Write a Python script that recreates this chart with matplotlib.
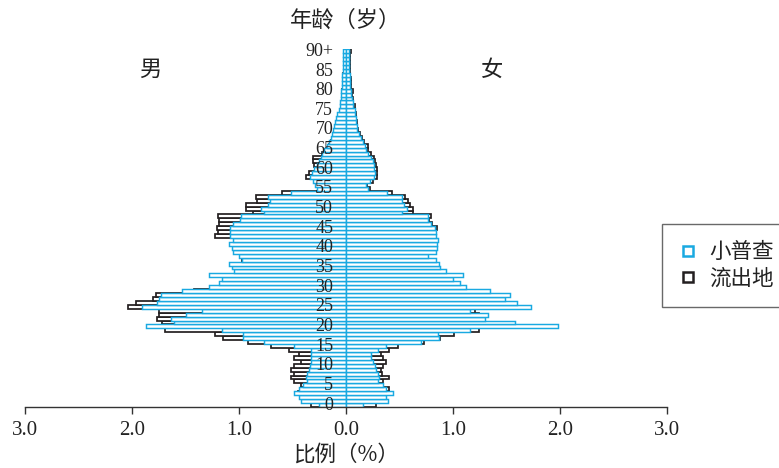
import matplotlib
matplotlib.use("Agg")
import matplotlib.pyplot as plt
from matplotlib.lines import Line2D
import numpy as np

# ---------------- data ----------------
ages = list(range(0, 91))
age_tick_labels = ["0", "5", "10", "15", "20", "25", "30", "35", "40", "45",
                   "50", "55", "60", "65", "70", "75", "80", "85", "90+"]
x_ticks = [-3, -2, -1, 0, 1, 2, 3]
x_tick_labels = ["3.0", "2.0", "1.0", "0.0", "1.0", "2.0", "3.0"]
series_names = ["小普查", "流出地"]

# 小普查 (census) male, ages 0..90
census_male = [0.25, 0.42, 0.44, 0.49, 0.44, 0.40, 0.36, 0.37, 0.36, 0.35,
               0.34, 0.33, 0.33, 0.33, 0.33, 0.49, 0.77, 0.96, 0.96, 1.16,
               1.87, 1.61, 1.64, 1.50, 1.35, 1.91, 1.77, 1.75, 1.73, 1.53,
               1.28, 1.19, 1.16, 1.28, 1.05, 1.07, 1.09, 0.97, 1.00, 1.06,
               1.07, 1.09, 1.06, 1.08, 1.08, 1.08, 1.06, 0.99, 0.98, 0.77,
               0.79, 0.73, 0.71, 0.73, 0.51, 0.27, 0.29, 0.31, 0.34, 0.32,
               0.30, 0.27, 0.25, 0.23, 0.22, 0.21, 0.18, 0.16, 0.14, 0.13,
               0.12, 0.11, 0.10, 0.09, 0.08, 0.07, 0.06, 0.06, 0.05, 0.05,
               0.05, 0.04, 0.04, 0.04, 0.04, 0.03, 0.03, 0.03, 0.03, 0.03,
               0.03]
# 小普查 female
census_female = [0.16, 0.39, 0.37, 0.44, 0.37, 0.35, 0.30, 0.31, 0.30, 0.28,
                 0.27, 0.25, 0.23, 0.23, 0.30, 0.37, 0.70, 0.87, 0.86, 1.16,
                 1.98, 1.58, 1.30, 1.33, 1.16, 1.73, 1.60, 1.49, 1.53, 1.35,
                 1.12, 1.07, 1.00, 1.09, 0.93, 0.88, 0.87, 0.84, 0.77, 0.84,
                 0.85, 0.85, 0.86, 0.84, 0.84, 0.83, 0.79, 0.77, 0.77, 0.52,
                 0.57, 0.54, 0.52, 0.52, 0.38, 0.21, 0.19, 0.22, 0.26, 0.27,
                 0.26, 0.26, 0.25, 0.23, 0.21, 0.19, 0.18, 0.16, 0.14, 0.12,
                 0.10, 0.10, 0.09, 0.09, 0.08, 0.08, 0.07, 0.07, 0.06, 0.05,
                 0.05, 0.04, 0.04, 0.04, 0.04, 0.03, 0.03, 0.03, 0.03, 0.03,
                 0.03]
# 流出地 (origin) male
origin_male = [0.33, 0.35, 0.40, 0.45, 0.42, 0.42, 0.49, 0.51, 0.49, 0.51,
               0.49, 0.42, 0.49, 0.44, 0.53, 0.70, 0.92, 1.15, 1.22, 1.69,
               1.72, 1.72, 1.77, 1.75, 1.75, 2.04, 1.96, 1.80, 1.78, 1.42,
               1.10, 0.98, 1.02, 1.02, 1.02, 0.85, 0.95, 0.97, 0.76, 0.84,
               0.90, 1.02, 1.01, 1.22, 1.20, 1.21, 1.19, 1.19, 1.20, 0.87,
               0.93, 0.93, 0.83, 0.84, 0.60, 0.24, 0.25, 0.30, 0.37, 0.35,
               0.28, 0.30, 0.31, 0.31, 0.22, 0.19, 0.16, 0.14, 0.12, 0.10,
               0.09, 0.08, 0.08, 0.07, 0.06, 0.05, 0.05, 0.04, 0.04, 0.04,
               0.04, 0.03, 0.03, 0.03, 0.03, 0.02, 0.02, 0.02, 0.02, 0.02,
               0.02]
# 流出地 female
origin_female = [0.28, 0.28, 0.35, 0.40, 0.40, 0.33, 0.35, 0.40, 0.34, 0.33,
                 0.35, 0.37, 0.35, 0.33, 0.40, 0.49, 0.73, 0.88, 1.01, 1.24,
                 1.34, 1.30, 1.26, 1.24, 1.21, 1.31, 1.21, 1.05, 0.98, 0.93,
                 0.70, 0.68, 0.66, 0.66, 0.60, 0.59, 0.58, 0.57, 0.55, 0.58,
                 0.61, 0.74, 0.75, 0.80, 0.83, 0.85, 0.80, 0.78, 0.79, 0.63,
                 0.63, 0.60, 0.58, 0.55, 0.43, 0.22, 0.20, 0.25, 0.29, 0.29,
                 0.29, 0.28, 0.27, 0.26, 0.23, 0.21, 0.21, 0.17, 0.15, 0.13,
                 0.11, 0.10, 0.10, 0.09, 0.09, 0.08, 0.08, 0.07, 0.07, 0.06,
                 0.07, 0.05, 0.05, 0.05, 0.04, 0.04, 0.04, 0.04, 0.04, 0.04,
                 0.05]

# ---------------- style ----------------
CYAN = "#19A9E1"
BLACK = "#231F20"
CJK = ["Noto Sans CJK SC", "DejaVu Sans"]
SERIF = ["Liberation Serif", "DejaVu Serif"]

fig = plt.figure(figsize=(7.79, 4.68), dpi=100)
ax = fig.add_axes([25 / 779, 61 / 468, 642 / 779, 357.6 / 468])

y = np.array(ages)
bar_h = 1.0
lw = 1.05

# origin (black) drawn first, census (cyan) on top
ax.barh(y, -np.array(origin_male), height=bar_h, left=0, color="white",
        edgecolor=BLACK, linewidth=lw + 0.2, zorder=1)
ax.barh(y, np.array(origin_female), height=bar_h, left=0, color="white",
        edgecolor=BLACK, linewidth=lw + 0.2, zorder=1)
ax.barh(y, -np.array(census_male), height=bar_h, left=0, color="white",
        edgecolor=CYAN, linewidth=lw, zorder=2)
ax.barh(y, np.array(census_female), height=bar_h, left=0, color="white",
        edgecolor=CYAN, linewidth=lw, zorder=2)

ax.set_xlim(-3, 3)
ax.set_ylim(-0.5, 90.5)

for s in ["left", "right", "top"]:
    ax.spines[s].set_visible(False)
ax.spines["bottom"].set_linewidth(1.0)
ax.spines["bottom"].set_color("#333333")
ax.set_yticks([])
ax.set_xticks(x_ticks)
ax.set_xticklabels(x_tick_labels, fontfamily=SERIF, fontsize=15, color="#222222")
ax.tick_params(axis="x", direction="out", length=5, width=1.0, color="#333333", pad=5)

# age labels
for i, lab in enumerate(age_tick_labels):
    ax.text(-0.12, i * 5, lab, ha="right", va="center", fontfamily=SERIF,
            fontsize=13, color="#222222", zorder=5)

# texts
fig.text(346 / 779, 1 - 20 / 468, "年龄（岁）", ha="center", va="center",
         fontfamily=CJK, fontsize=16, color="#222222")
fig.text(150 / 779, 1 - 69 / 468, "男", ha="center", va="center",
         fontfamily=CJK, fontsize=16, color="#222222")
fig.text(492 / 779, 1 - 69 / 468, "女", ha="center", va="center",
         fontfamily=CJK, fontsize=16, color="#222222")
fig.text(346 / 779, 1 - 455 / 468, "比例（%）", ha="center", va="center",
         fontfamily=CJK, fontsize=15.5, color="#222222")

handles = [Line2D([], [], marker="s", ls="none", mfc="white", mec=CYAN, ms=7, mew=1.8),
           Line2D([], [], marker="s", ls="none", mfc="white", mec=BLACK, ms=7, mew=1.8)]
leg = fig.legend(handles, series_names, loc="upper left",
                 bbox_to_anchor=(662 / 779, 1 - 224 / 468), borderaxespad=0,
                 frameon=True, fancybox=False, edgecolor="#444444",
                 prop={"family": CJK, "size": 15.5}, handlelength=0.8,
                 handletextpad=0.6, labelspacing=0.2, borderpad=0.8)
leg.get_frame().set_linewidth(1.0)
for t in leg.get_texts():
    t.set_color("#222222")

fig.savefig("out.png", dpi=100)
